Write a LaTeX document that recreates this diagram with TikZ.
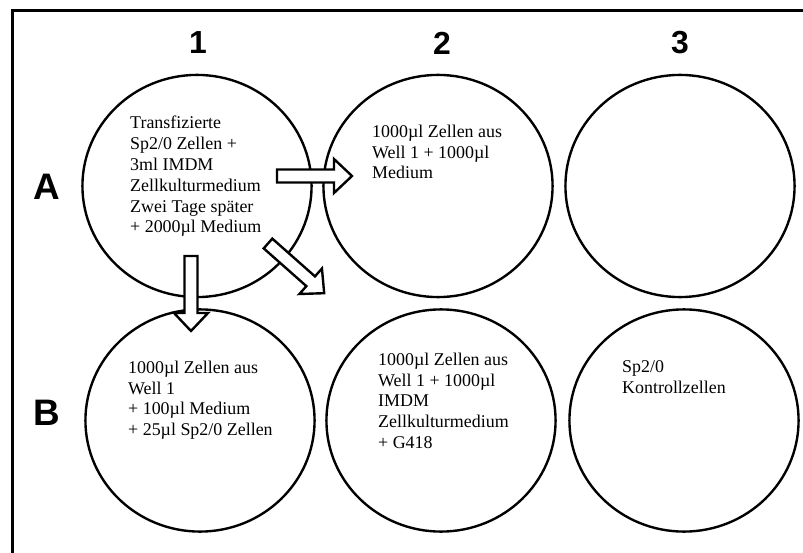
\documentclass[tikz,border=0pt]{standalone}
\usepackage{fontspec}
\setmainfont{Liberation Serif}
\newfontfamily\labelfont{Liberation Sans}
\usetikzlibrary{shapes.geometric}
\tikzset{
  well/.style={draw, line width=2.4pt, ellipse, minimum width=230, minimum height=223, inner sep=0pt},
  welltext/.style={anchor=north west, inner sep=0pt, align=left, font=\fontsize{18}{21}\selectfont},
  hdr/.style={font=\labelfont\bfseries\fontsize{32}{32}\selectfont, inner sep=0pt},
  rowhdr/.style={font=\labelfont\bfseries\fontsize{37}{37}\selectfont, inner sep=0pt},
  blockarr/.style={draw, fill=white, line width=2.4pt, line join=miter},
}
\newcommand\wellarrow[3]{% tail coordinate name, angle, length
  \draw[blockarr, shift={(#1)}, rotate=#2]
    (0,-6.5) -- ({#3-18},-6.5) -- ({#3-18},-17) -- (#3,0) -- ({#3-18},17) -- ({#3-18},6.5) -- (0,6.5) -- cycle;}
\begin{document}
\begin{tikzpicture}[x=1bp, y=-1bp]
\useasboundingbox (0,0) rectangle (803,553);
% frame
\draw[line width=3pt] (803,10.5) -- (12.5,10.5) -- (12.5,560);
% headers
\node[hdr] (c1) at (198,43) {1};
\node[hdr] (c2) at (442,43) {2};
\node[hdr] (c3) at (680,43) {3};
\node[rowhdr] (rA) at (47,187) {A};
\node[rowhdr] (rB) at (47,413) {B};
% wells
\node[well] (A1) at (197,186) {};
\node[well] (A2) at (438,186) {};
\node[well] (A3) at (680,186) {};
\node[well] (B1) at (200,420.5) {};
\node[well] (B2) at (441,420.5) {};
\node[well] (B3) at (684,420.5) {};
% texts
\node[welltext] (tA1) at (130,115.5) {Transfizierte\\Sp2/0 Zellen +\\3ml IMDM\\Zellkulturmedium\\Zwei Tage später\\+ 2000µl Medium};
\node[welltext] (tA2) at (372,124.5) {1000µl Zellen aus\\Well 1 + 1000µl\\Medium};
\node[welltext] (tB1) at (128,360.5) {1000µl Zellen aus\\Well 1\\+ 100µl Medium\\+ 25µl Sp2/0 Zellen};
\node[welltext] (tB2) at (378,352.5) {1000µl Zellen aus\\Well 1 + 1000µl\\IMDM\\Zellkulturmedium\\+ G418};
\node[welltext] (tB3) at (622,360.5) {Sp2/0\\Kontrollzellen};
% arrows
\coordinate (tailR) at (277,176);
\coordinate (tailD) at (191,256);
\coordinate (tailG) at (268,243.5);
\wellarrow{tailR}{0}{75}
\wellarrow{tailD}{-90}{75}
\wellarrow{tailG}{-41.5}{75}
\end{tikzpicture}
\end{document}
